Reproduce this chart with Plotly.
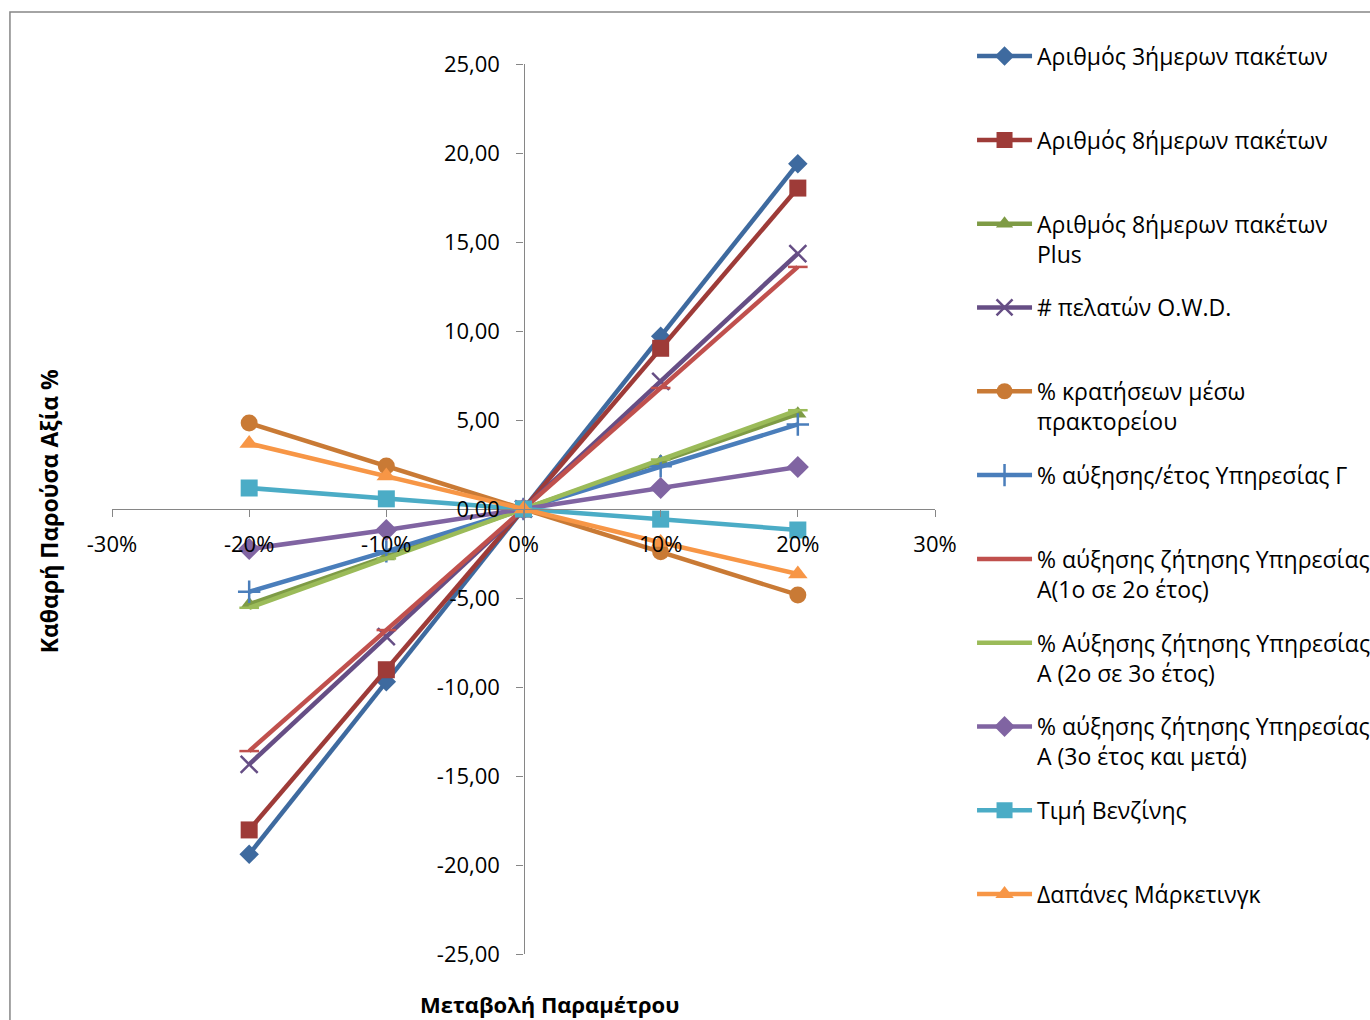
import plotly.graph_objects as go

# Parameter change (fraction) on the x axis
changes = [-0.20, -0.10, 0.0, 0.10, 0.20]

series_names = [
    "Αριθμός 3ήμερων πακέτων",
    "Αριθμός 8ήμερων πακέτων",
    "Αριθμός 8ήμερων πακέτων<br>Plus",
    "# πελατών O.W.D.",
    "% κρατήσεων μέσω<br>πρακτορείου",
    "% αύξησης/έτος Υπηρεσίας Γ",
    "% αύξησης ζήτησης Υπηρεσίας<br>Α(1ο σε 2ο έτος)",
    "% Αύξησης ζήτησης Υπηρεσίας<br>Α (2ο σε 3ο έτος)",
    "% αύξησης ζήτησης Υπηρεσίας<br>Α (3ο έτος και μετά)",
    "Τιμή Βενζίνης",
    "Δαπάνες Μάρκετινγκ",
]

# NPV change (%) for each parameter
npv_3day = [-19.40, -9.70, 0.0, 9.70, 19.40]
npv_8day = [-18.03, -9.03, 0.0, 9.03, 18.03]
npv_8day_plus = [-5.35, -2.67, 0.0, 2.67, 5.35]
npv_owd = [-14.35, -7.17, 0.0, 7.17, 14.35]
npv_agency = [4.83, 2.42, 0.0, -2.40, -4.83]
npv_service_c = [-4.65, -2.38, 0.0, 2.40, 4.75]
npv_demand_a_12 = [-13.60, -6.80, 0.0, 6.80, 13.60]
npv_demand_a_23 = [-5.55, -2.78, 0.0, 2.78, 5.55]
npv_demand_a_3p = [-2.25, -1.18, 0.0, 1.18, 2.36]
npv_fuel = [1.18, 0.57, 0.0, -0.57, -1.18]
npv_marketing = [3.68, 1.85, 0.0, -1.88, -3.65]

series_values = [
    npv_3day, npv_8day, npv_8day_plus, npv_owd, npv_agency, npv_service_c,
    npv_demand_a_12, npv_demand_a_23, npv_demand_a_3p, npv_fuel, npv_marketing,
]

colors = ["#3E6A9F", "#9E3B38", "#7E9B45", "#664E85", "#C97A35", "#4A7EBB",
          "#C0504D", "#9BBB59", "#8064A2", "#4BACC6", "#F79646"]
symbols = ["diamond", "square", "triangle-up", "x-thin-open", "circle", "cross-thin-open",
           "line-ew-open", "line-ew-open", "diamond", "square", "triangle-up"]
sizes = [15, 17, 15, 17, 17, 16, 14, 14, 17, 17, 17]

x_tick_vals = [-0.3, -0.2, -0.1, 0.0, 0.1, 0.2, 0.3]
x_tick_text = ["-30%", "-20%", "-10%", "0%", "10%", "20%", "30%"]
y_tick_vals = [-25, -20, -15, -10, -5, 0, 5, 10, 15, 20, 25]
y_tick_text = ["-25,00", "-20,00", "-15,00", "-10,00", "-5,00", "0,00",
               "5,00", "10,00", "15,00", "20,00", "25,00"]

fig = go.Figure()
for i, (name, vals) in enumerate(zip(series_names, series_values)):
    # every legend entry takes two lines so the entries are evenly spaced
    label = name if "<br>" in name else name + "<br> "
    open_sym = symbols[i].endswith("open")
    fig.add_trace(go.Scatter(
        x=changes, y=vals, name=label, mode="lines+markers",
        legendgroup=f"g{i}",
        line=dict(color=colors[i], width=4.5),
        marker=dict(symbol=symbols[i], size=sizes[i], color=colors[i],
                    line=dict(color=colors[i], width=2.5 if open_sym else 0)),
    ))

axis_font = dict(family="Open Sans", size=22, color="#000000")

fig.update_layout(
    width=1370, height=1020,
    margin=dict(l=112, r=435, t=64, b=66, autoexpand=False),
    paper_bgcolor="white", plot_bgcolor="white",
    font=axis_font,
    showlegend=True,
    legend=dict(
        x=1.045, y=1.033, xanchor="left", yanchor="top",
        font=dict(family="Open Sans", size=23, color="#000000"),
        valign="top", itemwidth=55, tracegroupgap=21, maxheight=1000,
        bgcolor="rgba(0,0,0,0)",
    ),
    xaxis=dict(
        range=[-0.3, 0.3], tickvals=x_tick_vals, ticktext=x_tick_text,
        anchor="free", position=0.5, showline=True, linecolor="#868686", linewidth=1.3,
        ticks="outside", ticklen=7, tickcolor="#868686", ticklabelstandoff=8,
        showgrid=False, zeroline=False, tickfont=axis_font,
    ),
    yaxis=dict(
        range=[-25, 25], tickvals=y_tick_vals, ticktext=y_tick_text,
        anchor="free", position=0.5, showline=True, linecolor="#868686", linewidth=1.3,
        ticks="outside", ticklen=7, tickcolor="#868686", ticklabelstandoff=12,
        showgrid=False, zeroline=False, tickfont=axis_font,
    ),
    annotations=[
        dict(text="<b>Καθαρή Παρούσα Αξία %</b>", xref="paper", yref="paper",
             x=-0.077, y=0.497, xanchor="center", yanchor="middle",
             textangle=-90, showarrow=False,
             font=dict(family="Open Sans", size=23, color="#000000")),
        dict(text="<b>Μεταβολή Παραμέτρου</b>", xref="paper", yref="paper",
             x=0.532, y=-0.056, xanchor="center", yanchor="middle", showarrow=False,
             font=dict(family="Open Sans", size=22, color="#000000")),
    ],
    shapes=[
        dict(type="rect", xref="paper", yref="paper",
             x0=-0.124, x1=1.6, y0=-0.3, y1=1.0584,
             line=dict(color="#868686", width=1.5), fillcolor="rgba(0,0,0,0)",
             layer="below"),
    ],
)

fig.write_html("out.html")
